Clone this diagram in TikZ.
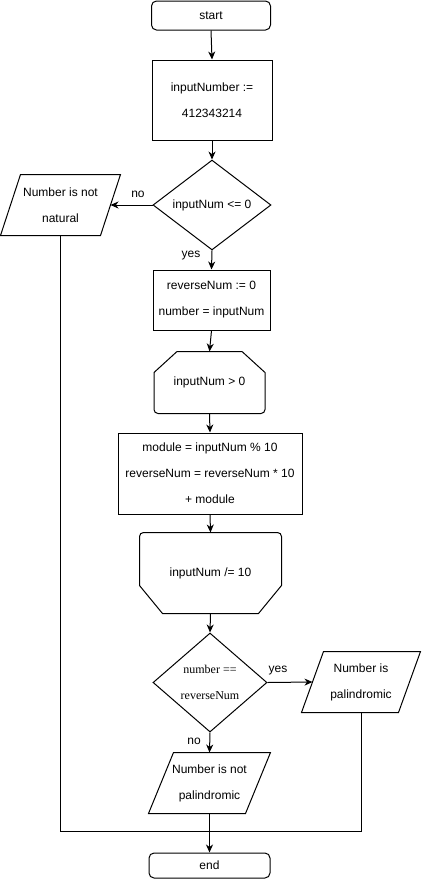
\documentclass[tikz,border=0pt]{standalone}
\usepackage{fontspec}
\setmainfont{Liberation Sans}
\newfontfamily\serifn{Liberation Serif}
\usetikzlibrary{calc,arrows.meta,shapes.geometric}
\begin{document}
\begin{tikzpicture}[x=1pt,y=-1pt,line width=1pt,
  every node/.style={font=\fontsize{12}{26}\selectfont, align=center, inner sep=0pt},
  term/.style={draw, rounded corners=5pt},
  proc/.style={draw},
  shapebox/.style={draw=none},
  decis/.style={draw, diamond},
  lbl/.style={font=\fontsize{12}{14}\selectfont},
  arr/.style={-{Stealth[length=8pt,width=7pt,inset=2.5pt]}},
  ln/.style={}
]
\useasboundingbox (0,0) rectangle (422,879);

% nodes
\node[term, minimum width=119pt, minimum height=29pt] (start) at (211,15.5) {start};
\node[proc, minimum width=120pt, minimum height=80pt] (init) at (212,100) {inputNumber :=\\412343214};
\node[decis, minimum width=118pt, minimum height=88pt] (d1) at (212,205) {inputNum <= 0};
\node[shapebox, minimum width=119pt, minimum height=60pt] (nn) at (60.5,205) {Number is not\\natural};
\node[proc, minimum width=117pt, minimum height=60pt] (init2) at (211.5,300) {reverseNum := 0\\number = inputNum};
\node[shapebox, minimum width=110pt, minimum height=61pt] (l1) at (209.5,382.5) {inputNum > 0};
\node[proc, minimum width=184pt, minimum height=81pt] (body) at (210,473.5) {module = inputNum \% 10\\reverseNum = reverseNum * 10\\+ module};
\node[shapebox, minimum width=141pt, minimum height=80pt] (l2) at (210.5,573) {inputNum /= 10};
\node[decis, minimum width=114pt, minimum height=99pt] (d2) at (210,682.5) {\serifn number ==\\\serifn reverseNum};
\node[shapebox, minimum width=118pt, minimum height=60pt] (pal) at (361,682) {Number is\\palindromic};
\node[shapebox, minimum width=121pt, minimum height=60pt] (npal) at (209.5,783) {Number is not\\palindromic};
\node[term, minimum width=121pt, minimum height=25pt] (end) at (209.5,865.5) {end};

% labels
\node[lbl] (lno1) at (138,194) {no};
\node[lbl] (lyes1) at (191,256) {yes};
\node[lbl] (lyes2) at (278,671) {yes};
\node[lbl] (lno2) at (194,741) {no};

% parallelograms
\draw (nn.south west) -- ($(nn.north west)+(20,0)$) -- (nn.north east) -- ($(nn.south east)+(-20,0)$) -- cycle;
\coordinate (nn-e) at ($(nn.east)+(-10,0)$);
\draw (pal.south west) -- ($(pal.north west)+(22,0)$) -- (pal.north east) -- ($(pal.south east)+(-22,0)$) -- cycle;
\coordinate (pal-w) at ($(pal.west)+(11,0)$);
\draw (npal.south west) -- ($(npal.north west)+(25,0)$) -- (npal.north east) -- ($(npal.south east)+(-25,0)$) -- cycle;

% loop start (top corners cut)
\draw ($(l1.north west)+(23,0)$) -- ($(l1.north west)+(0,21)$) [rounded corners=4pt] -- (l1.south west) -- (l1.south east) [sharp corners] -- ($(l1.north east)+(0,21)$) -- ($(l1.north east)+(-23,0)$) -- cycle;
% loop end (bottom corners cut)
\draw ($(l2.south west)+(23,0)$) -- ($(l2.south west)+(0,-28)$) [rounded corners=4pt] -- (l2.north west) -- (l2.north east) [sharp corners] -- ($(l2.south east)+(0,-28)$) -- ($(l2.south east)+(-23,0)$) -- cycle;

% connectors
\draw[arr] (start.south) -- (init.north);
\draw[arr] (init.south) -- (d1.north);
\draw[arr] (d1.west) -- (nn-e);
\draw[arr] (d1.south) -- (init2.north);
\draw[arr] (init2.south) -- (l1.north);
\draw[arr] (l1.south) -- (body.north);
\draw[arr] (body.south) -- (l2.north);
\draw[arr] (l2.south) -- (d2.north);
\draw[arr] (d2.east) -- (pal-w);
\draw[arr] (d2.south) -- (npal.north);
\coordinate (j) at (209.5,831);
\draw (nn.south) -- (nn.south |- j) -- (j);
\draw (pal.south) -- (pal.south |- j) -- (j);
\draw[arr] (npal.south) -- (end.north);
\end{tikzpicture}
\end{document}
